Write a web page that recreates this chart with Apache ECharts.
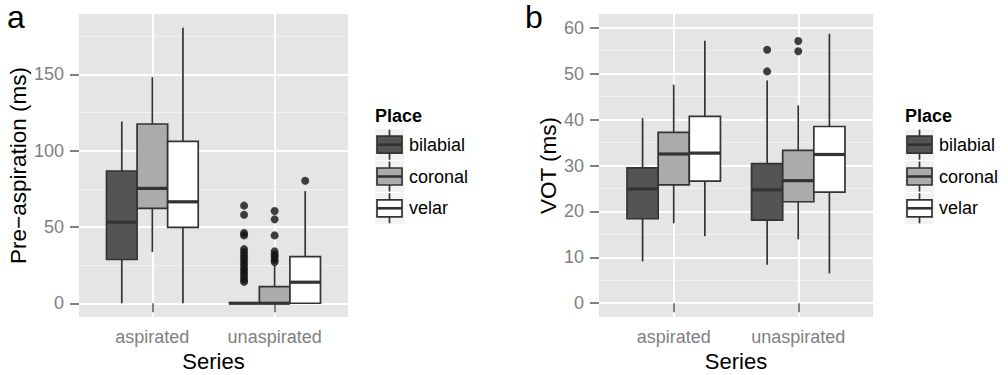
<!DOCTYPE html>
<html><head><meta charset="utf-8">
<script src="https://cdn.jsdelivr.net/npm/echarts@6/dist/echarts.min.js"></script>
<style>html,body{margin:0;padding:0;background:#fff}#c{width:1008px;height:375px}</style>
</head><body><div id="c"></div>
<script>
// ---- data ----
const categories = ['aspirated', 'unaspirated'];
const places = ['bilabial', 'coronal', 'velar'];
// Panel a: Pre-aspiration (ms) -> [lower whisker, Q1, median, Q3, upper whisker] per category
const preBilabial = [[0, 28.7, 53.2, 86.7, 119.1], [0, 0, 0, 0, 0]];
const preCoronal  = [[33.7, 62.2, 75.3, 117.5, 148.2], [0, 0, 0, 10.9, 25]];
const preVelar    = [[0, 49.7, 66.5, 106.1, 180.6], [0, 0, 13.8, 30.6, 73.5]];
const preBilabialOut = [[], [64, 58, 46, 44.5, 35.5, 33.5, 31.5, 29.5, 27.5, 25.5, 23.5, 21.5, 19.5, 17.5, 15.5, 14]];
const preCoronalOut  = [[], [60.5, 55, 44.5, 34, 32, 30.5, 28.5, 27]];
const preVelarOut    = [[], [80.3]];
// Panel b: VOT (ms)
const votBilabial = [[9.1, 18.4, 24.9, 29.5, 40.3], [8.4, 18.1, 24.7, 30.4, 48.5]];
const votCoronal  = [[17.4, 25.8, 32.5, 37.2, 47.6], [13.9, 22.1, 26.7, 33.3, 43.1]];
const votVelar    = [[14.6, 26.6, 32.7, 40.7, 57.2], [6.5, 24.2, 32.4, 38.5, 58.7]];
const votBilabialOut = [[], [55.2, 50.5]];
const votCoronalOut  = [[], [57.1, 54.9]];
const votVelarOut    = [[], []];
// tick labels
const preTicks = [0, 50, 100, 150];
const preMinor = [25, 75, 125, 175];
const votTicks = [0, 10, 20, 30, 40, 50, 60];
const votMinor = [5, 15, 25, 35, 45, 55];

// ---- styling ----
const FONT = '"Liberation Sans", Arial, Helvetica, sans-serif';
const fills = ['#545454', '#ababab', '#ffffff'];
const strokeC = '#333333';
const dodge = [-0.25, 0, 0.25];
const boxW = 0.25;

const panels = [
  { stats: [preBilabial, preCoronal, preVelar], outs: [preBilabialOut, preCoronalOut, preVelarOut],
    ticks: preTicks, minor: preMinor, min: -9, max: 189.6, yName: 'Pre\u2212aspiration (ms)', nameGap: 46,
    left: 79, width: 269, legendX: 375, tag: 'a', tagX: 7 },
  { stats: [votBilabial, votCoronal, votVelar], outs: [votBilabialOut, votCoronalOut, votVelarOut],
    ticks: votTicks, minor: votMinor, min: -3, max: 63, yName: 'VOT (ms)', nameGap: 37,
    left: 599, width: 274, legendX: 905, tag: 'b', tagX: 525 }
];

function boxRender(pi) {
  return function (params, api) {
    const x = api.value(0) + dodge[pi];
    const lo = api.value(1), q1 = api.value(2), med = api.value(3), q3 = api.value(4), hi = api.value(5);
    const h = boxW / 2;
    const lt = api.coord([x - h, q3]), rb = api.coord([x + h, q1]);
    const mL = api.coord([x - h, med]), mR = api.coord([x + h, med]);
    const pHi = api.coord([x, hi]), pQ3 = api.coord([x, q3]), pQ1 = api.coord([x, q1]), pLo = api.coord([x, lo]);
    const ls = { stroke: strokeC, lineWidth: 1.7 };
    return { type: 'group', children: [
      { type: 'line', shape: { x1: pHi[0], y1: pHi[1], x2: pQ3[0], y2: pQ3[1] }, style: ls },
      { type: 'line', shape: { x1: pQ1[0], y1: pQ1[1], x2: pLo[0], y2: pLo[1] }, style: ls },
      { type: 'rect', shape: { x: lt[0], y: lt[1], width: rb[0] - lt[0], height: rb[1] - lt[1] },
        style: { fill: fills[pi], stroke: strokeC, lineWidth: 1.7 } },
      { type: 'line', shape: { x1: mL[0], y1: mL[1], x2: mR[0], y2: mR[1] }, style: { stroke: strokeC, lineWidth: 3.2 } }
    ]};
  };
}

const grid = [], xAxis = [], yAxis = [], series = [], graphic = [];
panels.forEach((p, i) => {
  grid.push({ left: p.left, top: 14, width: p.width, height: 303, show: true, backgroundColor: '#e5e5e5',
              borderWidth: 0, containLabel: false, outerBoundsMode: 'none' });
  xAxis.push({ gridIndex: i, type: 'value', min: 0.4, max: 2.6,
    name: 'Series', nameLocation: 'middle', nameGap: 29,
    nameTextStyle: { fontSize: 22, color: '#000', fontFamily: FONT },
    axisLine: { show: false },
    axisTick: { show: true, customValues: [1, 2], length: 9, lineStyle: { color: '#555', width: 1.5 } },
    axisLabel: { customValues: [1, 2], formatter: v => categories[Math.round(v) - 1], fontSize: 18,
                 color: '#7f7f7f', fontFamily: FONT, margin: 11 },
    splitLine: { show: true, lineStyle: { color: '#ffffff', width: 1.8 } } });
  yAxis.push({ gridIndex: i, type: 'value', min: p.min, max: p.max, position: 'left',
    name: p.yName, nameLocation: 'middle', nameGap: p.nameGap, nameRotate: 90,
    nameTextStyle: { fontSize: 22.5, color: '#000', fontFamily: FONT },
    axisLine: { show: false },
    axisTick: { show: true, customValues: p.ticks, length: 9, lineStyle: { color: '#555', width: 1.5 } },
    axisLabel: { customValues: p.ticks, fontSize: 18, color: '#7f7f7f', fontFamily: FONT, margin: 15 },
    splitLine: { show: true, lineStyle: { color: '#ffffff', width: 1.8 } } });
  yAxis.push({ gridIndex: i, type: 'value', min: p.min, max: p.max, position: 'right',
    axisLine: { show: false }, axisTick: { show: false, customValues: p.minor },
    axisLabel: { show: false, customValues: p.minor },
    splitLine: { show: true, lineStyle: { color: '#f2f2f2', width: 0.9 } } });
  const yIdx = i * 2;
  places.forEach((pl, pi) => {
    series.push({ type: 'custom', name: pl, xAxisIndex: i, yAxisIndex: yIdx, z: 3,
      renderItem: boxRender(pi), encode: { x: 0, y: [1, 2, 3, 4, 5] },
      data: p.stats[pi].map((s, ci) => [ci + 1].concat(s)) });
    const pts = [];
    p.outs[pi].forEach((arr, ci) => arr.forEach(v => pts.push([ci + 1 + dodge[pi], v])));
    series.push({ type: 'scatter', name: pl + ' outliers', xAxisIndex: i, yAxisIndex: yIdx, z: 4,
      symbolSize: 8, itemStyle: { color: '#111' }, data: pts });
  });
  // panel tag
  graphic.push({ type: 'text', x: p.tagX, y: 17, style: { text: p.tag, fontSize: 32, fontFamily: FONT,
    fill: '#000', verticalAlign: 'middle' } });
  // legend
  const lx = p.legendX;
  graphic.push({ type: 'text', x: lx, y: 116, style: { text: 'Place', fontSize: 18, fontWeight: 'bold',
    fontFamily: FONT, fill: '#000', verticalAlign: 'middle' } });
  places.forEach((pl, pi) => {
    const cy = 144.7 + pi * 31.8;
    graphic.push({ type: 'rect', shape: { x: lx, y: cy - 15.5, width: 29, height: 31 }, style: { fill: '#f2f2f2' } });
    graphic.push({ type: 'line', shape: { x1: lx + 14.5, y1: cy - 15, x2: lx + 14.5, y2: cy + 15 },
      style: { stroke: strokeC, lineWidth: 1.7 } });
    graphic.push({ type: 'rect', shape: { x: lx + 2, y: cy - 8.5, width: 25, height: 17 },
      style: { fill: fills[pi], stroke: strokeC, lineWidth: 1.7 } });
    graphic.push({ type: 'line', shape: { x1: lx + 2, y1: cy, x2: lx + 27, y2: cy },
      style: { stroke: strokeC, lineWidth: 2.6 } });
    graphic.push({ type: 'text', x: lx + 34, y: cy, style: { text: pl, fontSize: 18, fontFamily: FONT,
      fill: '#000', verticalAlign: 'middle' } });
  });
});

const chart = echarts.init(document.getElementById('c'), null, { renderer: 'svg' });
chart.setOption({ animation: false, backgroundColor: '#ffffff', grid, xAxis, yAxis, series, graphic });
</script>
</body></html>
